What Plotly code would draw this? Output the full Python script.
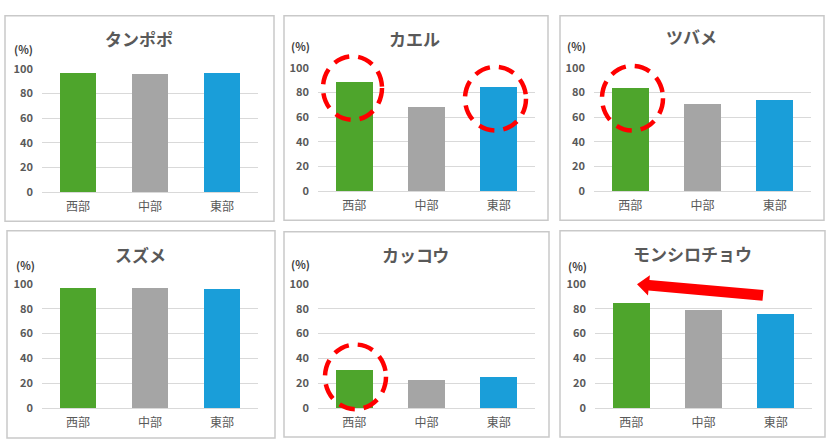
import plotly.graph_objects as go
import math

# ---- data ----
titles = ["タンポポ", "カエル", "ツバメ", "スズメ", "カッコウ", "モンシロチョウ"]
regions = ["西部", "中部", "東部"]
west = [97, 89, 84, 97, 31, 85]
central = [96, 68, 71, 97, 23, 79]
east = [97, 85, 74, 96, 25, 76]
y_ticks = [0, 20, 40, 60, 80, 100]

# ---- style ----
W, H = 830, 447
FONT = "Noto Sans CJK JP"
TXT = "#595959"
colors = ["#4EA52C", "#A5A5A5", "#1A9ED9"]
GRID = "#D9D9D9"

# panel frames (px): x0, x1, y0, y1
frames = [
    (5, 274, 7, 220), (284, 548, 7, 219), (560, 824, 7, 219),
    (7, 275, 230, 445), (284, 549, 231, 444), (560, 825, 230, 444),
]
# plot areas (px): x0, x1, y_top(100), y_bottom(0)
plots = [
    (42, 258, 62, 190), (318, 535, 61, 189), (594, 811, 61, 189),
    (42, 258, 285, 414), (318, 535, 285, 414), (595, 812, 285, 414),
]
title_pos = [(139, 31), (414, 31), (691, 29), (140, 255), (415, 255), (692, 254)]
pct_pos = [(23, 42), (300, 38), (576, 38), (25, 265), (300, 264), (577, 267)]


def px(x):
    return x / W


def py(y):
    return 1 - y / H


fig = go.Figure()
layout = dict(
    width=W, height=H, autosize=False,
    margin=dict(l=0, r=0, t=0, b=0),
    paper_bgcolor="white", plot_bgcolor="white",
    showlegend=False,
    font=dict(family=FONT, color=TXT),
    bargap=0,
)
annotations = []
shapes = []

for i in range(6):
    k = "" if i == 0 else str(i + 1)
    vals = [west[i], central[i], east[i]]
    fig.add_trace(go.Bar(
        x=regions, y=vals, width=0.51,
        marker=dict(color=colors, line=dict(width=0)),
        xaxis="x" + k, yaxis="y" + k, hoverinfo="x+y",
    ))
    x0, x1, yt, yb = plots[i]
    layout["xaxis" + k] = dict(
        domain=[px(x0), px(x1)], anchor="y" + k,
        showgrid=False, showline=True, linecolor=GRID, linewidth=1,
        ticks="", tickfont=dict(family=FONT, size=12, color=TXT),
        ticklabelstandoff=3,
        zeroline=False, fixedrange=True,
    )
    layout["yaxis" + k] = dict(
        domain=[py(yb), py(yt)], anchor="x" + k,
        range=[0, 100], tickvals=y_ticks, ticks="",
        showgrid=True, gridcolor=GRID, gridwidth=1,
        zeroline=False, showline=False,
        tickfont=dict(family=FONT, size=11, color=TXT, weight=700),
        ticklabelstandoff=8, fixedrange=True,
    )
    fx0, fx1, fy0, fy1 = frames[i]
    shapes.append(dict(type="rect", xref="paper", yref="paper",
                       x0=px(fx0), x1=px(fx1), y0=py(fy1), y1=py(fy0),
                       line=dict(color="#C9C9C9", width=1.5), layer="below"))
    tx, ty = title_pos[i]
    annotations.append(dict(text=titles[i], xref="paper", yref="paper",
                            x=px(tx), y=py(ty), showarrow=False,
                            xanchor="center", yanchor="middle",
                            font=dict(family=FONT, size=17, color=TXT, weight=700)))
    cx, cy = pct_pos[i]
    annotations.append(dict(text="(%)", xref="paper", yref="paper",
                            x=px(cx), y=py(cy), showarrow=False,
                            xanchor="center", yanchor="middle",
                            font=dict(family=FONT, size=11, color="#404040", weight=700)))

# ---- red dashed highlight circles (px boxes) ----
circles = [(323, 382, 49, 115), (465, 526, 60, 126), (602, 663, 59, 126), (325, 386, 348, 415)]
for (a, b, c, d) in circles:
    shapes.append(dict(type="circle", xref="paper", yref="paper",
                       x0=px(a), x1=px(b), y0=py(d), y1=py(c),
                       line=dict(color="#FF0000", width=4.5, dash="16px,9px"),
                       layer="above"))

# ---- red arrow (px geometry) ----
tail = (763, 297)
tip = (637, 285.5)
dx, dy = tip[0] - tail[0], tip[1] - tail[1]
L = math.hypot(dx, dy)
ux, uy = dx / L, dy / L
nx, ny = -uy, ux
hl, hw, sw = 12, 10.5, 5.5
bx, by = tip[0] - ux * hl, tip[1] - uy * hl
pts = [
    (tail[0] + nx * sw, tail[1] + ny * sw),
    (bx + nx * sw, by + ny * sw),
    (bx + nx * hw, by + ny * hw),
    tip,
    (bx - nx * hw, by - ny * hw),
    (bx - nx * sw, by - ny * sw),
    (tail[0] - nx * sw, tail[1] - ny * sw),
]
path = "M " + " L ".join(f"{px(p[0]):.5f},{py(p[1]):.5f}" for p in pts) + " Z"
shapes.append(dict(type="path", xref="paper", yref="paper", path=path,
                   fillcolor="#FF0000", line=dict(width=0), layer="above"))

layout["annotations"] = annotations
layout["shapes"] = shapes
fig.update_layout(**layout)
fig.write_html(
    "out.html",
    config={"displayModeBar": False},
    post_script="document.body.style.margin='0';document.body.style.overflow='hidden';",
)
